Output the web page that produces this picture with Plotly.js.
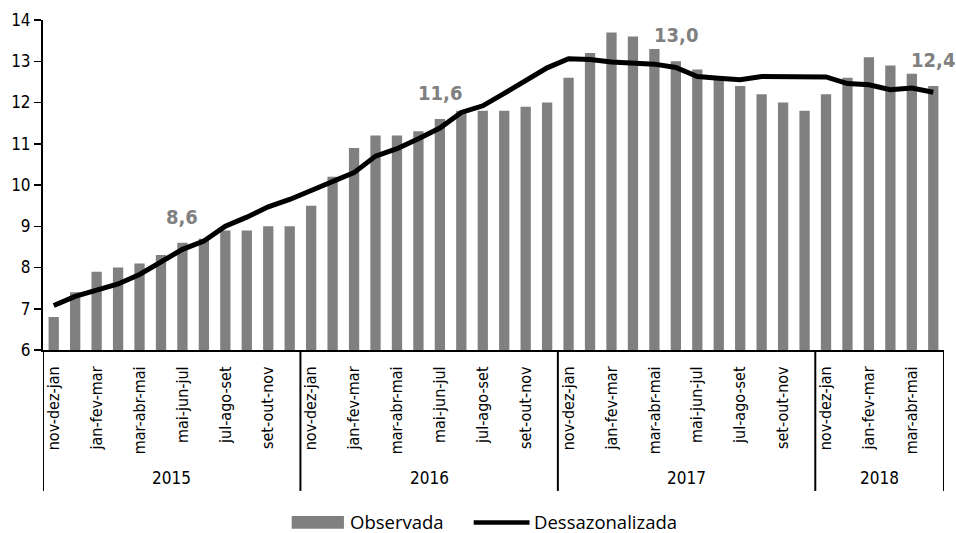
<!DOCTYPE html>
<html>
<head>
<meta charset="utf-8">
<script src="https://cdn.plot.ly/plotly-3.0.1.min.js"></script>
<style>
  html, body { margin: 0; padding: 0; background: #ffffff; }
  #chart { width: 956px; height: 533px; }
</style>
</head>
<body>
<div id="chart"></div>
<script>
// Rolling quarters shown within each year
const months = ['nov-dez-jan', 'dez-jan-fev', 'jan-fev-mar', 'fev-mar-abr', 'mar-abr-mai', 'abr-mai-jun',
                'mai-jun-jul', 'jun-jul-ago', 'jul-ago-set', 'ago-set-out', 'set-out-nov', 'out-nov-dez'];
const years = ['2015', '2016', '2017', '2018'];
const quartersPerYear = [12, 12, 12, 6];

// Taxa de desocupação (%) - observed series
const observada = [
  6.8, 7.4, 7.9, 8.0, 8.1, 8.3, 8.6, 8.7, 8.9, 8.9, 9.0, 9.0,
  9.5, 10.2, 10.9, 11.2, 11.2, 11.3, 11.6, 11.8, 11.8, 11.8, 11.9, 12.0,
  12.6, 13.2, 13.7, 13.6, 13.3, 13.0, 12.8, 12.6, 12.4, 12.2, 12.0, 11.8,
  12.2, 12.6, 13.1, 12.9, 12.7, 12.4
];

// Seasonally adjusted series
const dessazonalizada = [
  7.08, 7.30, 7.45, 7.60, 7.83, 8.15, 8.44, 8.64, 9.00, 9.22, 9.47, 9.65,
  9.87, 10.07, 10.30, 10.70, 10.88, 11.12, 11.38, 11.76, 11.92, 12.22, 12.53, 12.84,
  13.06, 13.04, 12.98, 12.97, 12.93, 12.85, 12.63, 12.59, 12.55, 12.63, 12.62, 12.60,
  12.62, 12.46, 12.43, 12.31, 12.35, 12.25
];

// Positions (in the observed series) whose value is written above the bar
const labelledPoints = [6, 18, 29, 41];

const yTicks = [6, 7, 8, 9, 10, 11, 12, 13, 14];

// ---- derived structure ----
const quarterLabels = [];
const groupStart = [];
years.forEach((yr, g) => {
  groupStart.push(quarterLabels.length);
  for (let i = 0; i < quartersPerYear[g]; i++) quarterLabels.push(months[i]);
});
const xIdx = quarterLabels.map((_, i) => i);
const nQ = quarterLabels.length;
const tickVals = xIdx.filter(i => i % 2 === 0);
const tickText = tickVals.map(i => quarterLabels[i]);

const NARROW = '"DejaVu Sans Condensed", "Liberation Sans Narrow", sans-serif';
const REGULAR = '"Open Sans", "Liberation Sans", sans-serif';
const GREY = '#808080';

const traces = [
  {
    type: 'bar',
    name: 'Observada',
    x: xIdx,
    y: observada,
    marker: { color: GREY },
    width: 0.48,
    hoverinfo: 'y'
  },
  {
    type: 'scatter',
    mode: 'lines',
    name: 'Dessazonalizada',
    x: xIdx,
    y: dessazonalizada,
    line: { color: '#000000', width: 5 },
    hoverinfo: 'y'
  }
];

const fmt = v => v.toFixed(1).replace('.', ',');

const annotations = labelledPoints.map(i => ({
  x: i, y: observada[i], xref: 'x', yref: 'y',
  text: fmt(observada[i]),
  showarrow: false, yanchor: 'middle', yshift: 26,
  font: { family: NARROW, size: 20, color: GREY, weight: 'bold' }
}));

// year labels below the quarter labels
years.forEach((yr, g) => {
  annotations.push({
    x: groupStart[g] + quartersPerYear[g] / 2 - 0.5, y: -0.388,
    xref: 'x', yref: 'paper', text: yr, showarrow: false,
    yanchor: 'middle',
    font: { family: NARROW, size: 17, color: '#000' }
  });
});

// legend entries
annotations.push(
  { x: 0.338, y: -0.52, xref: 'paper', yref: 'paper', text: 'Observada', showarrow: false,
    xanchor: 'left', yanchor: 'middle', font: { family: REGULAR, size: 18.5, color: '#000' } },
  { x: 0.543, y: -0.52, xref: 'paper', yref: 'paper', text: 'Dessazonalizada', showarrow: false,
    xanchor: 'left', yanchor: 'middle', font: { family: REGULAR, size: 18.5, color: '#000' } }
);

const shapes = [];
// group dividers extending below the axis
const dividerPos = [-0.5].concat(groupStart.slice(1).map(s => s - 0.5), [nQ - 0.5]);
dividerPos.forEach(p => {
  shapes.push({ type: 'line', xref: 'x', yref: 'paper', x0: p, x1: p, y0: 0, y1: -0.427,
                line: { color: '#000', width: 2 } });
});
// legend swatches
shapes.push(
  { type: 'rect', xref: 'paper', yref: 'paper', x0: 0.276, x1: 0.334, y0: -0.503, y1: -0.542,
    fillcolor: GREY, line: { width: 0 } },
  { type: 'line', xref: 'paper', yref: 'paper', x0: 0.478, x1: 0.540, y0: -0.523, y1: -0.523,
    line: { color: '#000', width: 4.5 } }
);

const layout = {
  width: 956, height: 533,
  margin: { l: 43, r: 12, t: 20, b: 183 },
  paper_bgcolor: '#ffffff', plot_bgcolor: '#ffffff',
  showlegend: false,
  bargap: 0.52,
  font: { family: NARROW, color: '#000' },
  xaxis: {
    range: [-0.5, nQ - 0.5],
    tickmode: 'array', tickvals: tickVals, ticktext: tickText,
    tickangle: -90, ticks: '', ticklabelstandoff: 8,
    tickfont: { family: NARROW, size: 16, color: '#000' },
    showline: true, linecolor: '#000', linewidth: 2,
    showgrid: false, zeroline: false, fixedrange: true
  },
  yaxis: {
    range: [6, 14],
    tickmode: 'array', tickvals: yTicks,
    ticks: 'outside', ticklen: 7, tickwidth: 1.5, tickcolor: '#000',
    tickfont: { family: NARROW, size: 17, color: '#000' },
    showline: true, linecolor: '#000', linewidth: 2,
    showgrid: false, zeroline: false, fixedrange: true
  },
  annotations: annotations,
  shapes: shapes
};

Plotly.newPlot('chart', traces, layout, { displayModeBar: false, staticPlot: true });
</script>
</body>
</html>
